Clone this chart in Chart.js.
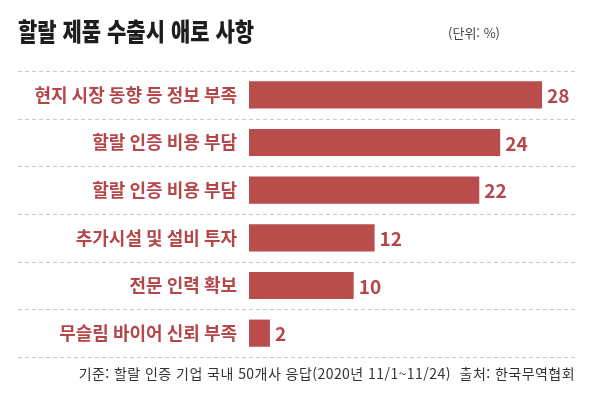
<!DOCTYPE html>
<html lang="ko">
<head>
<meta charset="utf-8">
<script src="https://cdn.jsdelivr.net/npm/chart.js@4.4.1/dist/chart.umd.min.js"></script>
<style>
  body { margin: 0; background: #fff; }
  #wrap { position: relative; width: 600px; height: 396px; font-family: "Noto Sans CJK KR", "Noto Sans", sans-serif; }
  #title { position: absolute; left: 18px; top: 14px; font-size: 25px; line-height: 32px; font-weight: 900; color: #1d1d1d; transform: scaleX(0.84); transform-origin: left center; white-space: pre; }
  #unit { position: absolute; right: 100px; top: 24px; font-size: 13px; line-height: 18px; color: #444; }
  #note { position: absolute; right: 25px; top: 363px; font-size: 14px; line-height: 20px; color: #333; white-space: pre; letter-spacing: 0.45px; }
  canvas { position: absolute; left: 0; top: 0; }
</style>
</head>
<body>
<div id="wrap">
  <canvas id="chart" width="600" height="396"></canvas>
  <div id="title">할랄 제품 수출시 애로 사항</div>
  <div id="unit">(단위: %)</div>
  <div id="note">기준: 할랄 인증 기업 국내 50개사 응답(2020년 11/1~11/24)  출처: 한국무역협회</div>
</div>
<script>
    const categories = ['현지 시장 동향 등 정보 부족', '할랄 인증 비용 부담', '할랄 인증 비용 부담', '추가시설 및 설비 투자', '전문 인력 확보', '무슬림 바이어 신뢰 부족'];
    const shares = [28, 24, 22, 12, 10, 2];
    const xRange = [0, 30];

    const barColor = '#b84d4c';
    const textColor = '#b5464a';

    // dashed separators between rows, running under the labels too
    const dividers = {
        id: 'dividers',
        beforeDatasetsDraw(chart) {
            const y = chart.scales.y;
            const half = (y.getPixelForValue(1) - y.getPixelForValue(0)) / 2;
            const ctx = chart.ctx;
            ctx.save();
            ctx.strokeStyle = '#c9c9c9';
            ctx.lineWidth = 1;
            ctx.setLineDash([4, 3]);
            for (let i = 0; i <= categories.length; i++) {
                const py = Math.round(y.getPixelForValue(i) - half) + 0.5;
                ctx.beginPath();
                ctx.moveTo(18, py);
                ctx.lineTo(575, py);
                ctx.stroke();
            }
            ctx.restore();
        }
    };

    // value at the end of each bar
    const valueLabels = {
        id: 'valueLabels',
        afterDatasetsDraw(chart) {
            const ctx = chart.ctx;
            const meta = chart.getDatasetMeta(0);
            ctx.save();
            ctx.font = 'bold 19px "Noto Sans CJK KR", "Noto Sans", sans-serif';
            ctx.fillStyle = textColor;
            ctx.textAlign = 'left';
            ctx.textBaseline = 'middle';
            meta.data.forEach((bar, i) => {
                ctx.fillText(shares[i], bar.x + 5, bar.y + 1);
            });
            ctx.restore();
        }
    };

    new Chart(document.getElementById('chart'), {
        type: 'bar',
        data: {
            labels: categories,
            datasets: [{
                data: shares,
                backgroundColor: barColor,
                borderWidth: 0,
                barPercentage: 0.57,
                categoryPercentage: 1
            }]
        },
        options: {
            indexAxis: 'y',
            responsive: false,
            animation: false,
            layout: { padding: { top: 71, bottom: 39, left: 0, right: 37 } },
            plugins: {
                legend: { display: false },
                tooltip: { enabled: false }
            },
            scales: {
                x: { display: false, min: xRange[0], max: xRange[1] },
                y: {
                    grid: { display: false, drawTicks: false },
                    border: { display: false },
                    afterFit: (s) => { s.width = 249; },
                    ticks: {
                        padding: 12,
                        color: textColor,
                        font: { family: '"Noto Sans CJK KR", "Noto Sans", sans-serif', size: 18, weight: 'bold' }
                    }
                }
            }
        },
        plugins: [dividers, valueLabels]
    });
</script>
</body>
</html>
